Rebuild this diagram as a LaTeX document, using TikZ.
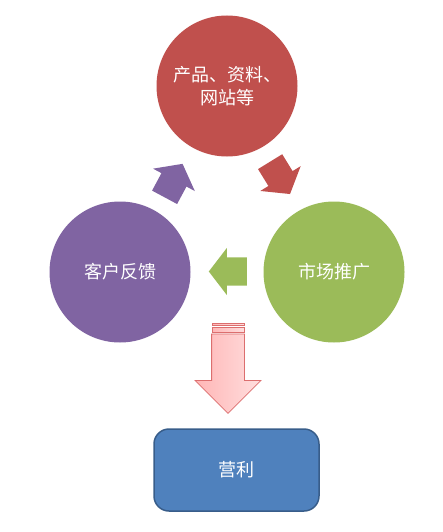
\documentclass[tikz,border=0pt]{standalone}
\usepackage{fontspec}
\newfontfamily\cjk{Noto Sans CJK SC}
\usetikzlibrary{shapes.arrows}

\definecolor{stepred}{HTML}{C0504D}
\definecolor{stepgreen}{HTML}{9BBB59}
\definecolor{steppurple}{HTML}{8064A2}
\definecolor{profitblue}{HTML}{4F81BD}
\definecolor{profitedge}{HTML}{385D8A}
\definecolor{pinkedge}{RGB}{220,110,110}
\definecolor{pinklight}{RGB}{255,222,222}
\definecolor{pinkdark}{RGB}{255,182,182}

\begin{document}
\begin{tikzpicture}[x=1pt, y=-1pt,
    stage/.style={circle, minimum size=141pt, inner sep=0pt, text=white, align=center,
        font=\cjk\fontsize{18}{23}\selectfont},
    turn/.style={single arrow, anchor=tail, minimum height=38pt, inner xsep=0pt,
        inner ysep=14pt, single arrow head extend=9.5pt, single arrow tip angle=105},
    stripe/.style={draw=pinkedge, line width=0.8pt, left color=pinkdark, right color=pinklight}]
    \useasboundingbox (0,0) rectangle (442,532);

    % Circles
    \node[stage, fill=stepred] (product) at (227,86) {产品、资料、\\网站等};
    \node[stage, fill=stepgreen] (market) at (334,272) {市场推广};
    \node[stage, fill=steppurple] (feedback) at (120,272) {客户反馈};

    % Arrows of the cycle
    \node[turn, fill=stepred, rotate=-58.4] (toMarket) at (270,161.5) {};
    \node[turn, fill=stepgreen, rotate=180] (toFeedback) at (247,271.5) {};
    \node[turn, fill=steppurple, rotate=61.8] (toProduct) at (164.5,197.5) {};

    % Striped arrow down to the result
    \draw[stripe] (212,323) rectangle (244,325.5);
    \draw[stripe] (212,327.5) rectangle (244,332);
    \node[single arrow, anchor=tail, rotate=-90, draw=pinkedge, line width=0.8pt,
        left color=pinkdark, right color=pinklight, minimum height=79.5pt,
        inner xsep=0pt, inner ysep=16pt, single arrow head extend=16.5pt] (toProfit) at (228,333.5) {};

    % Result
    \node[draw=profitedge, line width=1.5pt, fill=profitblue, rounded corners=15pt,
        minimum width=165pt, minimum height=82pt, text=white,
        font=\cjk\fontsize{18}{23}\selectfont] (profit) at (236.5,470) {营利};
\end{tikzpicture}
\end{document}
